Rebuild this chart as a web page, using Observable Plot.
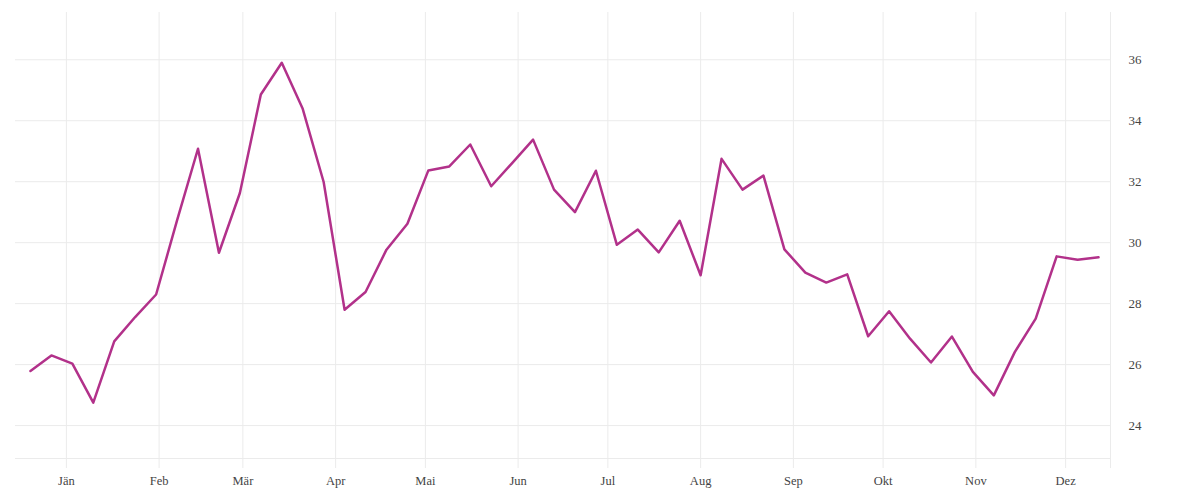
<!DOCTYPE html>
<html>
<head>
<meta charset="utf-8">
<script src="https://cdn.jsdelivr.net/npm/d3@7"></script>
<script src="https://cdn.jsdelivr.net/npm/@observablehq/plot@0.6"></script>
<style>
  html, body { margin: 0; padding: 0; background: #fff; }
</style>
</head>
<body>
<div id="chart"></div>
<script>
const weeks = [
  "2018-12-20","2018-12-27","2019-01-03","2019-01-10","2019-01-17","2019-01-24","2019-01-31",
  "2019-02-07","2019-02-14","2019-02-21","2019-02-28","2019-03-07","2019-03-14","2019-03-21","2019-03-28",
  "2019-04-04","2019-04-11","2019-04-18","2019-04-25","2019-05-02","2019-05-09","2019-05-16","2019-05-23","2019-05-30",
  "2019-06-06","2019-06-13","2019-06-20","2019-06-27","2019-07-04","2019-07-11","2019-07-18","2019-07-25",
  "2019-08-01","2019-08-08","2019-08-15","2019-08-22","2019-08-29","2019-09-05","2019-09-12","2019-09-19","2019-09-26",
  "2019-10-03","2019-10-10","2019-10-17","2019-10-24","2019-10-31","2019-11-07","2019-11-14","2019-11-21","2019-11-28",
  "2019-12-05","2019-12-12"
];
const values = [
  25.79, 26.30, 26.03, 24.75, 26.76, 27.56, 28.30, 30.73, 33.08, 29.67,
  31.63, 34.86, 35.90, 34.39, 31.99, 27.80, 28.38, 29.77, 30.62, 32.37,
  32.50, 33.22, 31.85, 32.61, 33.38, 31.74, 31.00, 32.36, 29.93, 30.43,
  29.68, 30.72, 28.93, 32.75, 31.74, 32.20, 29.78, 29.02, 28.69, 28.96,
  26.93, 27.75, 26.85, 26.07, 26.92, 25.76, 24.99, 26.41, 27.51, 29.55,
  29.44, 29.52
];
const monthStarts = ["2019-01-01","2019-02-01","2019-03-01","2019-04-01","2019-05-01","2019-06-01",
  "2019-07-01","2019-08-01","2019-09-01","2019-10-01","2019-11-01","2019-12-01"];
const monthLabels = ["Jän","Feb","Mär","Apr","Mai","Jun","Jul","Aug","Sep","Okt","Nov","Dez"];
const yTicks = [24, 26, 28, 30, 32, 34, 36];
const xDomain = ["2018-12-15", "2019-12-16"];
const yDomain = [22.92, 37.55];

const data = weeks.map((w, i) => ({date: new Date(w), value: values[i]}));
const xd = xDomain.map(s => new Date(s));
const monthDates = monthStarts.map(s => new Date(s));
const xTickDates = [...monthDates, xd[1]];
const labelFor = new Map(monthDates.map((d, i) => [+d, monthLabels[i]]));
const gridColor = "#ebebeb";

const chart = Plot.plot({
  width: 1200,
  height: 500,
  marginLeft: 15,
  marginRight: 90,
  marginTop: 12,
  marginBottom: 42,
  style: {fontFamily: "'Liberation Serif', serif", fontSize: "13px", color: "#444", background: "#fff"},
  x: {type: "utc", domain: xd},
  y: {domain: yDomain},
  marks: [
    Plot.gridY(yTicks, {stroke: gridColor, strokeOpacity: 1, strokeWidth: 1}),
    Plot.gridX(xTickDates, {stroke: gridColor, strokeOpacity: 1, strokeWidth: 1}),
    Plot.ruleY([yDomain[0]], {stroke: gridColor, strokeWidth: 1}),
    Plot.axisX(xTickDates, {
      anchor: "bottom", tickSize: 10, tickPadding: 8, stroke: gridColor, fontSize: 12.5,
      tickFormat: d => labelFor.get(+d) ?? "", label: null, fill: "#444"
    }),
    Plot.axisY(yTicks, {anchor: "right", tickSize: 0, tickPadding: 18, label: null, fill: "#444", tickFormat: d => String(d)}),
    Plot.line(data, {x: "date", y: "value", stroke: "#b2318a", strokeWidth: 2.5, curve: "linear"})
  ]
});
document.getElementById("chart").append(chart);
</script>
</body>
</html>
